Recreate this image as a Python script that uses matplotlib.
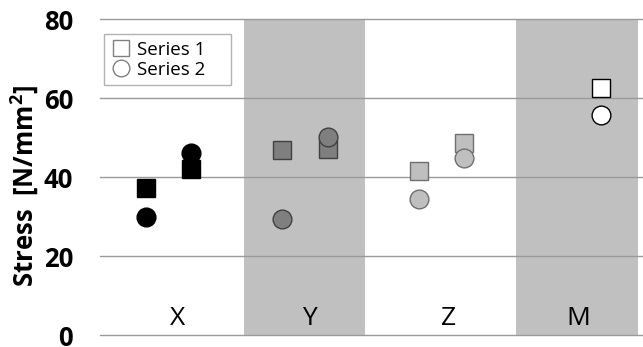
import matplotlib
matplotlib.use("Agg")
import matplotlib.pyplot as plt
from matplotlib.lines import Line2D

plt.rcParams['font.family'] = ['Open Sans', 'DejaVu Sans']
plt.rcParams['mathtext.fontset'] = 'custom'
plt.rcParams['mathtext.bf'] = 'Open Sans:bold'
plt.rcParams['mathtext.rm'] = 'Open Sans'

# Data
groups = ["X", "Y", "Z", "M"]
s1_pos = [1, 2, 4, 5, 7, 8, 11]
s1_val = [37.2, 42.1, 46.9, 47.2, 41.5, 48.7, 62.7]
s2_pos = [1, 2, 4, 5, 7, 8, 11]
s2_val = [30.0, 46.0, 29.4, 50.1, 34.4, 44.8, 55.8]
group_of_point = ["X", "X", "Y", "Y", "Z", "Z", "M"]
fill_colors = {"X": "#000000", "Y": "#7f7f7f", "Z": "#bfbfbf", "M": "#ffffff"}
edge_colors = {"X": "#000000", "Y": "#404040", "Z": "#6f6f6f", "M": "#000000"}
label_pos = [1.70, 4.59, 7.65, 10.51]
yticks = [0, 20, 40, 60, 80]
series_names = ["Series 1", "Series 2"]

fig = plt.figure(figsize=(6.43, 3.47), dpi=100)
W, H = 643, 347
ax = fig.add_axes([100.2 / W, 12 / H, (643 - 100.2) / W, (335 - 19.3) / H])
ax.set_xlim(0, 11.93)
ax.set_ylim(0, 80)

# shaded bands
ax.axvspan(3.16, 5.82, color="#c0c0c0", lw=0, zorder=0)
ax.axvspan(9.14, 11.81, color="#c0c0c0", lw=0, zorder=0)

# grid
for yv in yticks:
    ax.axhline(yv, color="#9a9a9a", lw=1.0, zorder=1, clip_on=False)

for sp in ax.spines.values():
    sp.set_visible(False)

for p, v, g in zip(s1_pos, s1_val, group_of_point):
    ax.plot(p, v, marker="s", ms=13.5, mfc=fill_colors[g], mec=edge_colors[g],
            mew=1.0, ls="none", zorder=3)
for p, v, g in zip(s2_pos, s2_val, group_of_point):
    ax.plot(p, v, marker="o", ms=13.5, mfc=fill_colors[g], mec=edge_colors[g],
            mew=1.0, ls="none", zorder=4)

for lp, g in zip(label_pos, groups):
    ax.text(lp, 1.0, g, ha="center", va="bottom", fontsize=19, color="#000000")

ax.set_xticks([])
ax.set_yticks(yticks)
ax.set_yticklabels([str(t) for t in yticks], fontsize=18.5, fontweight="bold")
ax.tick_params(axis="y", length=0, pad=19.5)

fig.text(25 / W, 1 - 186.5 / H, "Stress  [N/mm$^\\mathbf{2}$]", rotation=90,
         ha="center", va="center", fontsize=18.5, fontweight="bold")

handles = [
    Line2D([], [], marker="s", ms=12, mfc="white", mec="#808080", mew=1.0, ls="none"),
    Line2D([], [], marker="o", ms=12, mfc="white", mec="#808080", mew=1.0, ls="none"),
]
leg = ax.legend(handles, [n + "    " for n in series_names], loc="upper left",
                bbox_to_anchor=(4 / 542.8, (335 - 34.3) / 315.7),
                fontsize=13.5, frameon=True, fancybox=False, edgecolor="#a0a0a0",
                handletextpad=0.3, handlelength=1.1, borderpad=0.35,
                labelspacing=0.1, borderaxespad=0)
leg.get_frame().set_linewidth(1.0)

fig.savefig("out.png", dpi=100)
